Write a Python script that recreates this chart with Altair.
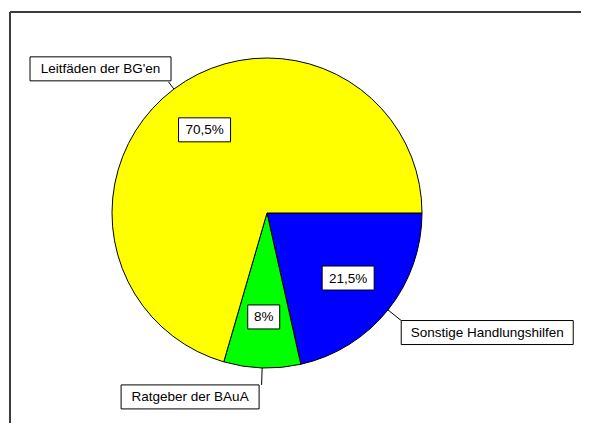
import math
import altair as alt
import pandas as pd

# ---- data ----
categories = ["Sonstige Handlungshilfen", "Ratgeber der BAuA", "Leitfäden der BG'en"]
values = [21.5, 8.0, 70.5]
pct_labels = ["21,5%", "8%", "70,5%"]
colors = ["#0000FF", "#00FF00", "#FFFF00"]

# ---- layout (page pixel coordinates) ----
W, H = 573, 415          # chart size; chart origin is at page (8, 8)
OFF = 8
CX, CY, R = 267, 213, 155
START = math.pi / 2      # first slice starts at 3 o'clock
PCT_R = 104
lead_r = [172, 172, 164]
name_box_w = [172, 138, 141]
pct_box_w = [52, 32, 52]
BOX_H = 24
FONT = "Liberation Sans"
FS = 13.5

total = sum(values)
mids = []
acc = 0.0
for v in values:
    a0 = START + 2 * math.pi * acc / total
    acc += v
    a1 = START + 2 * math.pi * acc / total
    mids.append((a0 + a1) / 2)


def pt(a, r):
    return CX + r * math.sin(a), CY - r * math.cos(a)


pie_df = pd.DataFrame({"cat": categories, "val": values, "idx": list(range(len(values)))})

rows_leader, rows_box = [], []
for i, cat in enumerate(categories):
    sx, sy = pt(mids[i], R)
    ex, ey = pt(mids[i], lead_r[i])
    rows_leader.append({"x": sx, "y": sy, "x2": ex, "y2": ey})
    w = name_box_w[i]
    if i == 0:   # box to the lower right of the leader end
        bx0, by0 = ex, ey
    elif i == 1:  # box below, to the left
        bx0, by0 = ex - 2.5 - w, ey
    else:        # box above, to the left
        bx0, by0 = ex + 2.5 - w, ey - BOX_H - 1
    rows_box.append({"x": bx0, "x2": bx0 + w, "y": by0, "y2": by0 + BOX_H,
                     "tx": bx0 + w / 2, "ty": by0 + BOX_H / 2 + 0.5, "t": cat})
    px, py = pt(mids[i], PCT_R)
    pw = pct_box_w[i]
    rows_box.append({"x": px - pw / 2, "x2": px + pw / 2, "y": py - BOX_H / 2, "y2": py + BOX_H / 2,
                     "tx": px, "ty": py + 0.5, "t": pct_labels[i]})

lead_df = pd.DataFrame(rows_leader)
box_df = pd.DataFrame(rows_box)
frame_df = pd.DataFrame([
    {"x": 10, "x2": OFF + W, "y": 12, "y2": 12},
    {"x": 10, "x2": 10, "y": 12, "y2": OFF + H},
])

xs = alt.Scale(domain=[OFF, OFF + W], range=[0, W])
ys = alt.Scale(domain=[OFF, OFF + H], range=[0, H])
noax = None

pie = alt.Chart(pie_df).mark_arc(outerRadius=R, stroke="black", strokeWidth=1).encode(
    theta=alt.Theta("val:Q", stack=True, scale=alt.Scale(range=[START, START + 2 * math.pi])),
    color=alt.Color("cat:N", scale=alt.Scale(domain=categories, range=colors), legend=None),
    order=alt.Order("idx:Q"),
    x=alt.value(CX - OFF),
    y=alt.value(CY - OFF),
)

frame = alt.Chart(frame_df).mark_rule(color="#3c3c3c", strokeWidth=2).encode(
    x=alt.X("x:Q", scale=xs, axis=noax), x2="x2:Q",
    y=alt.Y("y:Q", scale=ys, axis=noax), y2="y2:Q",
)

leaders = alt.Chart(lead_df).mark_rule(color="black", strokeWidth=1).encode(
    x=alt.X("x:Q", scale=xs, axis=noax), x2="x2:Q",
    y=alt.Y("y:Q", scale=ys, axis=noax), y2="y2:Q",
)

boxes = alt.Chart(box_df).mark_rect(fill="white", stroke="black", strokeWidth=1).encode(
    x=alt.X("x:Q", scale=xs, axis=noax), x2="x2:Q",
    y=alt.Y("y:Q", scale=ys, axis=noax), y2="y2:Q",
)

texts = alt.Chart(box_df).mark_text(font=FONT, fontSize=FS, color="#000000",
                                    align="center", baseline="middle").encode(
    x=alt.X("tx:Q", scale=xs, axis=noax),
    y=alt.Y("ty:Q", scale=ys, axis=noax),
    text="t:N",
)

chart = alt.layer(frame, pie, leaders, boxes, texts).properties(
    width=W, height=H, padding=0, autosize=alt.AutoSizeParams(type="none"),
    background="white",
).configure_view(stroke=None)

chart.save("out.html", embed_options={"renderer": "svg", "actions": False})
